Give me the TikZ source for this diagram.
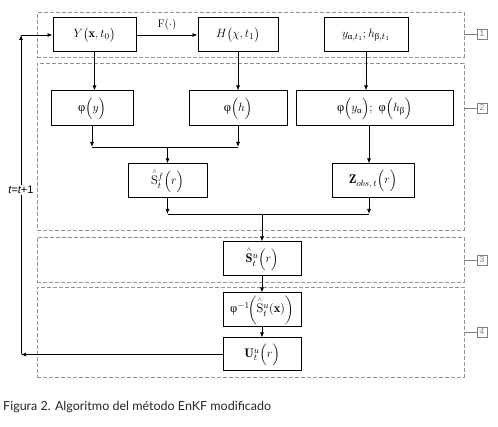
\documentclass[tikz,border=0pt]{standalone}
\usepackage{amsmath}
\usepackage{fontspec}
\usetikzlibrary{arrows.meta}
\newfontfamily\grk{Liberation Serif}
\newfontfamily\capfont{Lato}
\newfontfamily\lblfont{Liberation Sans}
\newcommand{\gph}{\text{\grk φ}}
\newcommand{\gal}{\text{\grk α}}
\newcommand{\gbe}{\text{\grk β}}
\newcommand{\hS}[1]{\overset{\scriptscriptstyle\wedge}{#1}}
\begin{document}
\begin{tikzpicture}[x=1pt,y=-1pt,
  box/.style={draw, line width=1pt, minimum height=34pt, inner sep=2pt, font=\fontsize{12.5}{14}\selectfont},
  grp/.style={draw=gray!85, dash pattern=on 4pt off 2pt, line width=0.8pt, inner sep=0pt},
  tag/.style={draw=gray, text=gray, font=\lblfont\fontsize{8.5}{9}\selectfont, minimum size=10pt, inner sep=0pt, line width=0.6pt},
  tagline/.style={draw=gray, line width=0.6pt},
  arr/.style={-{Latex[length=5pt,width=4pt]}, line width=0.8pt},
  ln/.style={line width=0.8pt}]
\useasboundingbox (0,0) rectangle (498,427);

% group frames
\node[grp, minimum width=427pt, minimum height=44.5pt] (g1) at (250.5,34.75) {};
\node[grp, minimum width=427pt, minimum height=167pt] (g2) at (250.5,146.5) {};
\node[grp, minimum width=427pt, minimum height=45pt] (g3) at (250.5,259.5) {};
\node[grp, minimum width=427pt, minimum height=90pt] (g4) at (250.5,332) {};
\node[tag] (t1) at (482,34) {1};
\node[tag] (t2) at (482,108) {2};
\node[tag] (t3) at (482,260) {3};
\node[tag] (t4) at (482,332) {4};
\draw[tagline] (t1.west -| g1.east) -- (t1.west);
\draw[tagline] (t2.west -| g2.east) -- (t2.west);
\draw[tagline] (t3.west -| g3.east) -- (t3.west);
\draw[tagline] (t4.west -| g4.east) -- (t4.west);

% boxes
\node[box, minimum width=83pt] (Y) at (94.5,35) {$Y\bigl(\mathbf{x},t_0\bigr)$};
\node[box, minimum width=80pt] (H) at (238,35) {$H\bigl(\chi,t_1\bigr)$};
\node[box, minimum width=84pt] (obs) at (366,35) {$y_{\gal,t_1};h_{\gbe,t_1}$};
\node[box, minimum width=82pt, minimum height=35pt] (py) at (92,108.5) {$\gph\Bigl(y\Bigr)$};
\node[box, minimum width=98pt, minimum height=35pt] (ph) at (238,108.5) {$\gph\Bigl(h\Bigr)$};
\node[box, minimum width=157pt, minimum height=35pt] (pab) at (374.5,108.5) {$\gph\Bigl(y_{\gal}\Bigr);\ \gph\Bigl(h_{\gbe}\Bigr)$};
\node[box, minimum width=79pt] (Sf) at (167.5,181) {$\hS{\mathrm{S}}\vphantom{S}^f_t\Bigl(r\Bigr)$};
\node[box, minimum width=82pt] (Z) at (373,181) {$\mathbf{Z}_{obs,\,t}\Bigl(r\Bigr)$};
\node[box, minimum width=78pt] (Su) at (262,259) {$\hS{\mathbf{S}}\vphantom{S}^u_t\Bigl(r\Bigr)$};
\node[box, minimum width=78pt] (inv) at (262,310) {$\gph^{-1}\!\biggl(\hS{\mathrm{S}}\vphantom{S}^u_t(\mathbf{x})\biggr)$};
\node[box, minimum width=78pt, minimum height=33pt] (U) at (262,354.5) {$\mathbf{U}^u_t\Bigl(r\Bigr)$};

% connectors
\draw[arr] (Y) -- node[above=1pt, font=\fontsize{11}{12}\selectfont] {$\mathrm{F}(\cdot)$} (H);
\draw[arr] (Y.south) -- (Y.south |- py.north);
\draw[arr] (H.south) -- (H.south |- ph.north);
\draw[arr] (obs.south) -- (obs.south |- pab.north);
\draw[arr] ([xshift=-5.5pt]pab.south) -- ([xshift=-5.5pt]pab.south |- Z.north);

\coordinate (m1) at (167.5,147);
\draw[arr] (py.south) -- (py.south |- m1);
\draw[arr] (ph.south) -- (ph.south |- m1);
\draw[ln] (py.south |- m1) -- (ph.south |- m1);
\draw[arr] (m1) -- (Sf.north);

\coordinate (m2) at (262,214);
\draw[arr] (Sf.south) -- (Sf.south |- m2);
\draw[arr] ([xshift=-4pt]Z.south) -- ([xshift=-4pt]Z.south |- m2);
\draw[ln] (Sf.south |- m2) -- ([xshift=-4pt]Z.south |- m2);
\draw[arr] (m2) -- (Su.north);
\draw[arr] (Su) -- (inv);
\draw[arr] (inv) -- (U);

\coordinate (fb1) at (21,354.5);
\coordinate (fb2) at (21,35);
\draw[arr] (U.west) -- (fb1);
\draw[arr] (fb1) -- (fb2);
\draw[arr] (fb2) -- (Y.west);
\node[fill=white, inner sep=1pt, font=\lblfont\fontsize{11}{12}\selectfont] (tl) at (21,190) {\itshape t\upshape=\itshape t\upshape+1};

\node[anchor=west, inner sep=0pt, text=black!85, font=\capfont\fontsize{12.5}{14}\selectfont] (cap) at (3,407) {Figura 2. Algoritmo del método EnKF modificado};
\end{tikzpicture}
\end{document}
